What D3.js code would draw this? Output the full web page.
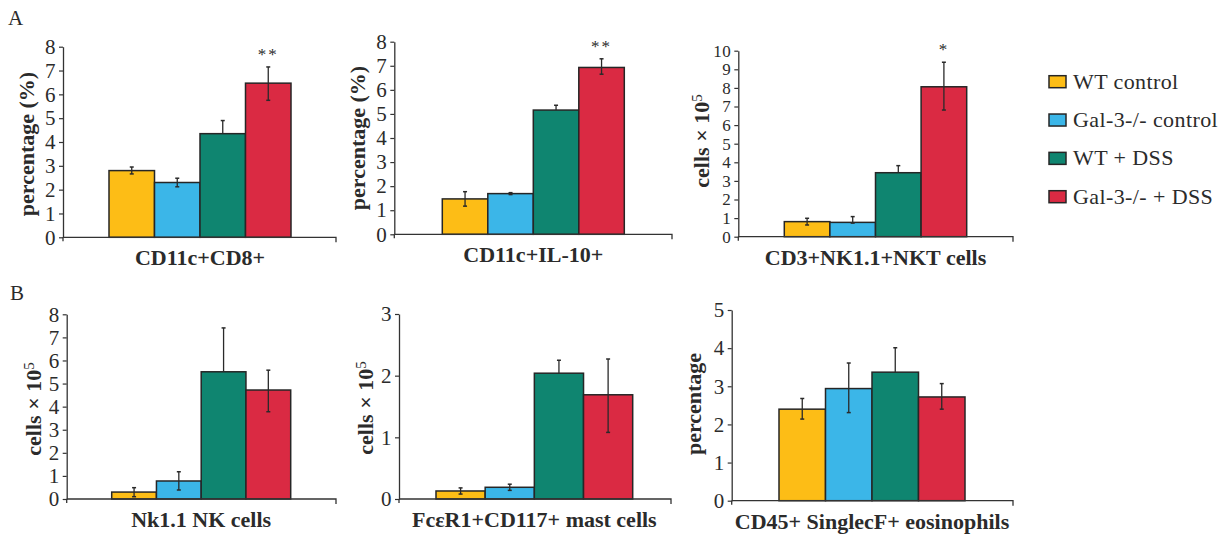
<!DOCTYPE html>
<html>
<head>
<meta charset="utf-8">
<script src="https://cdn.jsdelivr.net/npm/d3@7"></script>
<style>
  html, body { margin: 0; padding: 0; background: #fff; }
  svg { display: block; }
  text { font-family: "Liberation Serif", "Times New Roman", serif; fill: #2b2b2b; }
</style>
</head>
<body>
<svg id="chart" width="1226" height="536"></svg>
<script>
// ---- data ----
const groups = ["WT control", "Gal-3-/- control", "WT + DSS", "Gal-3-/- + DSS"];
const groupColors = ["#FDBD16", "#3BB6E8", "#0F8570", "#DA2A43"];

const cd8Values = [2.80, 2.30, 4.35, 6.47];
const cd8Upper  = [2.95, 2.48, 4.90, 7.15];
const cd8Lower  = [2.66, 2.12, 4.35, 5.75];

const il10Values = [1.47, 1.69, 5.16, 6.93];
const il10Upper  = [1.77, 1.73, 5.36, 7.29];
const il10Lower  = [1.17, 1.65, 5.16, 6.65];

const nktValues = [0.81, 0.77, 3.44, 8.06];
const nktUpper  = [0.99, 1.08, 3.82, 9.38];
const nktLower  = [0.63, 0.73, 3.44, 6.81];

const nkValues = [0.30, 0.78, 5.51, 4.72];
const nkUpper  = [0.49, 1.18, 7.41, 5.58];
const nkLower  = [0.10, 0.39, 5.51, 3.78];

const mastValues = [0.13, 0.19, 2.04, 1.69];
const mastUpper  = [0.18, 0.24, 2.25, 2.27];
const mastLower  = [0.08, 0.14, 2.04, 1.08];

const eosValues = [2.40, 2.94, 3.37, 2.72];
const eosUpper  = [2.68, 3.61, 4.01, 3.07];
const eosLower  = [2.14, 2.31, 3.37, 2.40];

const cd8Ticks  = [0,1,2,3,4,5,6,7,8];
const il10Ticks = [0,1,2,3,4,5,6,7,8];
const nktTicks  = [0,1,2,3,4,5,6,7,8,9,10];
const nkTicks   = [0,1,2,3,4,5,6,7,8];
const mastTicks = [0,1,2,3];
const eosTicks  = [0,1,2,3,4,5];

const cd8Stars  = ["", "", "", "**"];
const il10Stars = ["", "", "", "**"];
const nktStars  = ["", "", "", "*"];
const noStars   = ["", "", "", ""];

const panelLetters = ["A", "B"];

// ---- panels (data + layout) ----
const panels = [
  { cat: "CD11c+CD8+", ytitle: "percentage (%)", sup: false, values: cd8Values, upper: cd8Upper, lower: cd8Lower, ticks: cd8Ticks, stars: cd8Stars,
    ax: 63, top: 46.7, bottom: 237.3, xEnd: 336, b0: 109, b1: 291, tx: 26, ty: 144, tickFont: 21 },
  { cat: "CD11c+IL-10+", ytitle: "percentage (%)", sup: false, values: il10Values, upper: il10Upper, lower: il10Lower, ticks: il10Ticks, stars: il10Stars,
    ax: 394.3, top: 41.7, bottom: 234.3, xEnd: 672, b0: 442.3, b1: 624.3, tx: 357, ty: 138, tickFont: 21 },
  { cat: "CD3+NK1.1+NKT cells", ytitle: "cells × 10", sup: true, values: nktValues, upper: nktUpper, lower: nktLower, ticks: nktTicks, stars: nktStars,
    ax: 738.3, top: 50.7, bottom: 236.7, xEnd: 1013, b0: 784.3, b1: 966.7, tx: 701, ty: 141, tickFont: 17 },
  { cat: "Nk1.1 NK cells", ytitle: "cells × 10", sup: true, values: nkValues, upper: nkUpper, lower: nkLower, ticks: nkTicks, stars: noStars,
    ax: 66.7, top: 314.3, bottom: 499, xEnd: 336, b0: 111.7, b1: 290.7, tx: 33, ty: 409, tickFont: 21 },
  { cat: "FcεR1+CD117+ mast cells", ytitle: "cells × 10", sup: true, values: mastValues, upper: mastUpper, lower: mastLower, ticks: mastTicks, stars: noStars,
    ax: 399, top: 314, bottom: 499, xEnd: 671, b0: 436, b1: 632.7, tx: 365, ty: 408, tickFont: 21 },
  { cat: "CD45+ SinglecF+ eosinophils", ytitle: "percentage", sup: false, values: eosValues, upper: eosUpper, lower: eosLower, ticks: eosTicks, stars: noStars,
    ax: 731.7, top: 310, bottom: 500.7, xEnd: 1013, b0: 779, b1: 965, tx: 693, ty: 404, tickFont: 21 }
];

const svg = d3.select("#chart");
const axisColor = "#333";

panels.forEach(p => {
  const g = svg.append("g");
  const y = d3.scaleLinear().domain([0, d3.max(p.ticks)]).range([p.bottom, p.top]);
  const x = d3.scaleBand().domain(groups).range([p.b0, p.b1]).padding(0);

  // y axis
  const yAxis = d3.axisLeft(y).tickValues(p.ticks).tickFormat(d3.format("d")).tickSize(4).tickSizeOuter(0).tickPadding(3);
  const ya = g.append("g").attr("transform", `translate(${p.ax},0)`).call(yAxis);
  ya.select(".domain").attr("stroke", axisColor).attr("stroke-width", 1.3);
  ya.selectAll(".tick line").attr("stroke", axisColor).attr("stroke-width", 1.2);
  ya.selectAll(".tick text").style("font-size", p.tickFont + "px").style("font-family", "Liberation Serif")
    .style("letter-spacing", "0.5px").attr("fill", "#2b2b2b");
  // y axis extension below origin
  g.append("line").attr("x1", p.ax).attr("x2", p.ax).attr("y1", y(0)).attr("y2", y(0) + 4)
    .attr("stroke", axisColor).attr("stroke-width", 1.3);

  // bars
  g.selectAll("rect.bar").data(p.values).enter().append("rect")
    .attr("class", "bar")
    .attr("x", (d, i) => x(groups[i]))
    .attr("width", x.bandwidth())
    .attr("y", d => y(d))
    .attr("height", d => y(0) - y(d))
    .attr("fill", (d, i) => groupColors[i])
    .attr("stroke", "#262626").attr("stroke-width", 1.5);

  // error bars
  p.values.forEach((v, i) => {
    const cx = x(groups[i]) + x.bandwidth() / 2;
    const yu = y(p.upper[i]), yl = y(p.lower[i]);
    g.append("line").attr("x1", cx).attr("x2", cx).attr("y1", yu).attr("y2", yl)
      .attr("stroke", "#2a2a2a").attr("stroke-width", 1.3);
    g.append("line").attr("x1", cx - 2).attr("x2", cx + 2).attr("y1", yu).attr("y2", yu)
      .attr("stroke", "#2a2a2a").attr("stroke-width", 1.5);
    if (p.lower[i] < v) {
      g.append("line").attr("x1", cx - 2).attr("x2", cx + 2).attr("y1", yl).attr("y2", yl)
        .attr("stroke", "#2a2a2a").attr("stroke-width", 1.5);
    }
    if (p.stars[i]) {
      g.append("text").attr("x", cx).attr("y", yu - 7).attr("text-anchor", "middle")
        .style("font-size", "17px").style("letter-spacing", "2px").attr("fill", "#555").text(p.stars[i]);
    }
  });

  // x axis line with end tick
  g.append("path")
    .attr("d", `M${p.ax},${y(0)}H${p.xEnd}V${y(0) + 5}`)
    .attr("fill", "none").attr("stroke", axisColor).attr("stroke-width", 1.3);

  // category label
  g.append("text").attr("x", (p.b0 + p.b1) / 2).attr("y", p.bottom + 28)
    .attr("text-anchor", "middle").style("font-size", "22px").style("font-weight", "bold")
    .text(p.cat);

  // y title
  const t = g.append("text").attr("transform", `translate(${p.tx},${p.ty}) rotate(-90)`)
    .attr("text-anchor", "middle").attr("dy", "0.35em")
    .style("font-size", "22px").style("font-weight", "bold");
  t.append("tspan").text(p.ytitle);
  if (p.sup) t.append("tspan").attr("dy", "-0.45em").style("font-size", "15px").style("font-weight", "normal").text("5");
});

// panel letters
svg.append("text").attr("x", 8).attr("y", 25).style("font-size", "21px").text(panelLetters[0]);
svg.append("text").attr("x", 10).attr("y", 300).style("font-size", "21px").text(panelLetters[1]);

// legend
const legendYs = d3.scalePoint().domain(groups).range([81.7, 196.7]);
const lg = svg.append("g");
groups.forEach((gname, i) => {
  lg.append("rect").attr("x", 1049).attr("y", legendYs(gname) - 6).attr("width", 17).attr("height", 12)
    .attr("fill", groupColors[i]).attr("stroke", "#262626").attr("stroke-width", 1.5);
  lg.append("text").attr("x", 1073).attr("y", legendYs(gname) + 7).style("font-size", "22px")
    .style("letter-spacing", "0.4px").text(gname);
});
</script>
</body>
</html>
